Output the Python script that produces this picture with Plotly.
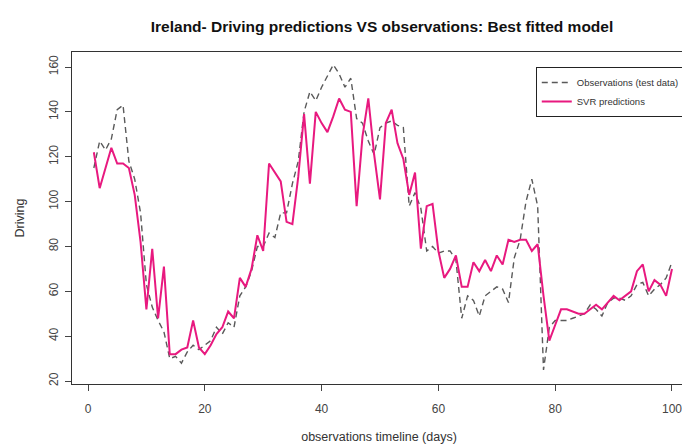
import plotly.graph_objects as go

# days 1..100
days = list(range(1, 101))

observed = [115, 127, 123, 128, 141, 143, 118, 110, 95, 63,
            53, 47, 42, 30, 31, 28, 33, 36, 34, 36,
            38, 44, 41, 46, 44, 58, 62, 69, 80, 80,
            86, 84, 95, 95, 108, 118, 140, 149, 145, 151,
            156, 161, 157, 151, 155, 137, 135, 127, 121, 133,
            135, 136, 134, 133, 98, 104, 97, 78, 80, 77,
            78, 78, 74, 48, 58, 56, 49, 58, 60, 62,
            61, 55, 75, 83, 100, 110, 98, 25, 44, 47,
            47, 47, 48, 49, 50, 54, 52, 49, 55, 57,
            57, 56, 58, 63, 64, 58, 61, 63, 66, 73]

predicted = [122, 106, 115, 124, 117, 117, 115, 103, 82, 52,
             79, 48, 71, 32, 32, 34, 35, 47, 35, 32,
             36, 41, 44, 51, 48, 66, 62, 70, 85, 78,
             117, 113, 109, 91, 90, 111, 139, 108, 140, 135,
             131, 138, 146, 141, 140, 98, 129, 146, 121, 101,
             135, 141, 126, 119, 103, 113, 79, 98, 99, 78,
             66, 70, 76, 62, 62, 73, 69, 74, 69, 76,
             72, 83, 82, 83, 83, 78, 81, 58, 38, 45,
             52, 52, 51, 50, 50, 52, 54, 52, 55, 58,
             56, 58, 60, 69, 72, 60, 65, 63, 58, 70]

x_ticks = [0, 20, 40, 60, 80, 100]
y_ticks = [20, 40, 60, 80, 100, 120, 140, 160]

fig = go.Figure()

fig.add_trace(go.Scatter(
    x=days, y=observed,
    mode='lines',
    name='Observations (test data)',
    line=dict(color='#5a5a5a', width=1.4, dash='6px,4px')
))

fig.add_trace(go.Scatter(
    x=days, y=predicted,
    mode='lines',
    name='SVR predictions',
    line=dict(color='#e8197f', width=2)
))

axis_font = dict(family='Liberation Sans, Arial, sans-serif', size=12, color='#444444')
title_font = dict(family='Liberation Sans, Arial, sans-serif', size=12.5, color='#333333')

# page body has an 8px margin, so the figure is 8px smaller than the window
W, H = 682, 438

fig.update_layout(
    width=W, height=H,
    margin=dict(l=64, r=4, t=44, b=62),
    paper_bgcolor='white',
    plot_bgcolor='white',
    title=dict(
        text='<b>Ireland- Driving predictions VS observations: Best fitted model</b>',
        x=374 / W, xanchor='center',
        y=1 - 19 / H, yanchor='middle',
        font=dict(family='Liberation Sans, Arial, sans-serif', size=15.5, color='#111111')
    ),
    showlegend=True,
    legend=dict(
        x=0.998, y=0.955, xanchor='right', yanchor='top',
        bgcolor='white', bordercolor='#222222', borderwidth=1,
        font=dict(family='Liberation Sans, Arial, sans-serif', size=9.5, color='#333333'),
        tracegroupgap=0, itemwidth=30
    ),
    font=axis_font
)

fig.update_xaxes(
    range=[-2.74, 102.4],
    tickvals=x_ticks,
    automargin=False,
    ticks='outside', ticklen=6, tickcolor='#444444',
    ticklabelstandoff=8,
    showgrid=False, zeroline=False,
    showline=True, mirror=True, linecolor='#333333', linewidth=1,
    title=dict(text='observations timeline (days)', standoff=16, font=title_font)
)

fig.update_yaxes(
    range=[18.7, 166.7],
    tickvals=y_ticks,
    tickangle=-90,
    automargin=False,
    ticks='outside', ticklen=6, tickcolor='#444444',
    ticklabelstandoff=2,
    showgrid=False, zeroline=False,
    showline=True, mirror=True, linecolor='#333333', linewidth=1,
    title=dict(text='Driving', standoff=19, font=title_font)
)

fig.write_html("out.html")
